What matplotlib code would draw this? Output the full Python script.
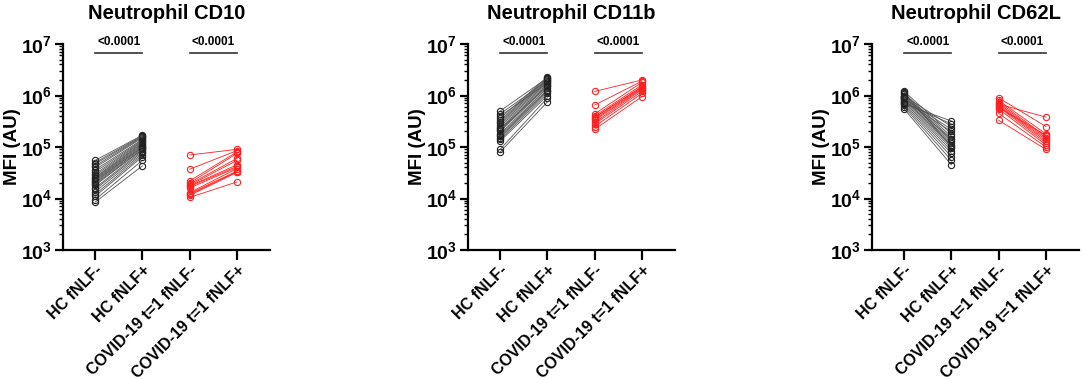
import numpy as np
import matplotlib.pyplot as plt
from matplotlib.ticker import LogLocator, FixedLocator, FuncFormatter

plt.rcParams['font.family'] = ['Liberation Sans', 'DejaVu Sans']
plt.rcParams['font.weight'] = 'bold'
plt.rcParams['mathtext.fontset'] = 'custom'
plt.rcParams['mathtext.rm'] = 'Liberation Sans:bold'
plt.rcParams['mathtext.bf'] = 'Liberation Sans:bold'

categories = ['HC fNLF-', 'HC fNLF+', 'COVID-19 t=1 fNLF-', 'COVID-19 t=1 fNLF+']
titles = ['Neutrophil CD10', 'Neutrophil CD11b', 'Neutrophil CD62L']
pvals = ['<0.0001', '<0.0001']

# CD10
cd10_hc_pre = [8.5e3, 9.5e3, 1.1e4, 1.2e4, 1.35e4, 1.5e4, 1.6e4, 1.8e4, 2.0e4, 2.1e4, 2.3e4, 2.4e4,
               2.5e4, 2.6e4, 2.8e4, 3.0e4, 3.3e4, 3.6e4, 4.0e4, 4.3e4, 4.7e4, 5.0e4, 5.5e4, 2.2e4, 1.9e4]
cd10_hc_post = [4.3e4, 5.5e4, 6.5e4, 7.0e4, 7.5e4, 8.0e4, 8.5e4, 9.0e4, 9.5e4, 1.0e5, 1.05e5, 1.1e5,
                1.15e5, 1.2e5, 1.25e5, 1.3e5, 1.35e5, 1.4e5, 1.5e5, 1.55e5, 1.6e5, 1.65e5, 1.7e5, 1.0e5, 9.0e4]
cd10_cv_pre = [1.05e4, 1.15e4, 1.25e4, 1.3e4, 1.6e4, 1.7e4, 1.75e4, 1.8e4, 1.9e4, 2.0e4, 2.2e4, 3.7e4, 7.0e4, 1.2e4]
cd10_cv_post = [2.1e4, 3.2e4, 3.4e4, 3.8e4, 4.0e4, 4.2e4, 4.5e4, 5.5e4, 6.0e4, 7.5e4, 8.0e4, 8.5e4, 9.0e4, 3.3e4]

# CD11b
cd11b_hc_pre = [8.0e4, 9.0e4, 1.3e5, 1.4e5, 1.5e5, 1.7e5, 1.8e5, 2.0e5, 2.1e5, 2.3e5, 2.5e5, 2.7e5,
                2.9e5, 3.1e5, 3.3e5, 3.6e5, 4.0e5, 4.4e5, 5.0e5, 2.2e5, 1.6e5]
cd11b_hc_post = [7.5e5, 9.0e5, 1.0e6, 1.1e6, 1.2e6, 1.3e6, 1.4e6, 1.5e6, 1.6e6, 1.7e6, 1.8e6, 1.9e6,
                 2.0e6, 2.1e6, 2.2e6, 2.3e6, 1.75e6, 1.95e6, 2.2e6, 1.55e6, 1.25e6]
cd11b_cv_pre = [2.2e5, 2.5e5, 2.8e5, 3.0e5, 3.3e5, 3.5e5, 3.7e5, 4.0e5, 4.4e5, 6.5e5, 1.2e6, 3.8e5]
cd11b_cv_post = [9.5e5, 1.1e6, 1.2e6, 1.3e6, 1.35e6, 1.4e6, 1.5e6, 1.6e6, 1.8e6, 1.9e6, 2.0e6, 1.45e6]

# CD62L
cd62l_hc_pre = [5.5e5, 6.0e5, 6.5e5, 7.0e5, 7.5e5, 8.0e5, 8.5e5, 9.0e5, 9.5e5, 1.0e6, 1.05e6, 1.1e6,
                1.2e6, 7.8e5, 8.8e5, 9.8e5, 6.8e5, 1.15e6, 9.2e5, 7.2e5]
cd62l_hc_post = [4.5e4, 5.5e4, 6.5e4, 7.5e4, 8.5e4, 9.5e4, 1.05e5, 1.1e5, 1.2e5, 1.3e5, 1.45e5, 1.6e5,
                 1.8e5, 2.0e5, 2.2e5, 2.5e5, 3.2e5, 1.0e5, 1.4e5, 2.8e5]
cd62l_cv_pre = [3.3e5, 4.5e5, 5.5e5, 6.0e5, 6.3e5, 6.6e5, 7.0e5, 7.5e5, 8.0e5, 9.0e5, 6.8e5, 5.8e5]
cd62l_cv_post = [9.0e4, 1.0e5, 1.1e5, 1.2e5, 1.3e5, 1.4e5, 1.5e5, 1.6e5, 1.8e5, 2.5e5, 3.8e5, 1.7e5]

panels = [
    (cd10_hc_pre, cd10_hc_post, cd10_cv_pre, cd10_cv_post),
    (cd11b_hc_pre, cd11b_hc_post, cd11b_cv_pre, cd11b_cv_post),
    (cd62l_hc_pre, cd62l_hc_post, cd62l_cv_pre, cd62l_cv_post),
]

fig = plt.figure(figsize=(10.84, 3.79), dpi=100)
lefts = [63, 468, 872]
W, H = 1084, 379

def fmt(v, pos):
    return r'$\mathbf{10^{%d}}$' % int(round(np.log10(v)))

for k, (hpre, hpost, cpre, cpost) in enumerate(panels):
    ax = fig.add_axes([lefts[k] / W, (H - 250) / H, 207 / W, 206 / H])
    for a, b in zip(hpre, hpost):
        ax.plot([0, 1], [a, b], color='#555555', lw=0.6, marker='o', ms=4.5,
                mfc='none', mec='#222222', mew=0.8, clip_on=False)
    for a, b in zip(cpre, cpost):
        ax.plot([2, 3], [a, b], color='#ff2020', lw=0.6, marker='o', ms=4.5,
                mfc='none', mec='#ff2020', mew=0.8, clip_on=False)
    ax.set_yscale('log')
    ax.set_ylim(1e3, 1e7)
    ax.set_xlim(-0.68, 3.7)
    ax.yaxis.set_major_locator(FixedLocator([1e3, 1e4, 1e5, 1e6, 1e7]))
    ax.yaxis.set_minor_locator(LogLocator(base=10, subs=np.arange(2, 10)))
    ax.yaxis.set_major_formatter(FuncFormatter(fmt))
    ax.set_xticks(range(4))
    ax.set_xticklabels(categories, rotation=45, ha='right', rotation_mode='anchor',
                       fontsize=11.5, fontweight='bold')
    for s in ['top', 'right']:
        ax.spines[s].set_visible(False)
    for s in ['left', 'bottom']:
        ax.spines[s].set_linewidth(1.6)
    ax.tick_params(axis='y', which='major', length=6, width=1.6, labelsize=14, pad=2)
    ax.tick_params(axis='y', which='minor', length=3, width=1.0)
    ax.tick_params(axis='x', length=7, width=1.6, pad=2)
    ax.set_ylabel('MFI (AU)', fontsize=13.5, fontweight='bold')
    ax.yaxis.set_label_coords(-0.205, 0.5)
    ax.text(0.5, 1.15, titles[k], transform=ax.transAxes, ha='center', va='center',
            fontsize=14.5, fontweight='bold')
    for (x0, x1), p in zip([(0, 1), (2, 3)], pvals):
        yb = 10 ** 6.83
        ax.plot([x0, x1], [yb, yb], color='#333333', lw=1.2, clip_on=False)
        ax.text((x0 + x1) / 2, 10 ** 6.93, p, ha='center', va='bottom',
                fontsize=8.5, fontweight='bold')

fig.savefig('out.png', dpi=100)
